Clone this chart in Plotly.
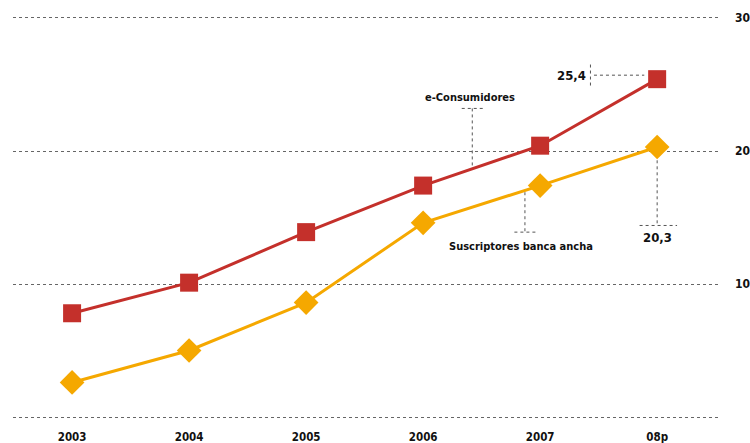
import plotly.graph_objects as go

years = ["2003", "2004", "2005", "2006", "2007", "08p"]
e_consumidores = [7.8, 10.1, 13.9, 17.4, 20.4, 25.4]
banda_ancha = [2.6, 5.0, 8.6, 14.6, 17.4, 20.3]
y_ticks = [0, 10, 20, 30]
y_tick_labels = ["", "10", "20", "30"]

RED = "#C4302B"
YEL = "#F5A800"
FONT = "DejaVu Sans Condensed, Liberation Sans Narrow, Arial Narrow, sans-serif"
DOT = dict(color="#555555", width=1, dash="dot")

x_idx = list(range(len(years)))

fig = go.Figure()
fig.add_trace(go.Scatter(
    x=x_idx, y=e_consumidores, mode="lines+markers", name="e-Consumidores",
    line=dict(color=RED, width=3),
    marker=dict(symbol="square", size=18, color=RED),
))
fig.add_trace(go.Scatter(
    x=x_idx, y=banda_ancha, mode="lines+markers", name="Suscriptores banca ancha",
    line=dict(color=YEL, width=3),
    marker=dict(symbol="diamond", size=19, color=YEL),
))

shapes = [
    dict(type="line", xref="x", yref="y", x0=3.33, x1=3.52, y0=23.2, y1=23.2, line=DOT),
    dict(type="line", xref="x", yref="y", x0=3.42, x1=3.42, y0=23.2, y1=18.7, line=DOT),
    dict(type="line", xref="x", yref="y", x0=3.87, x1=3.87, y0=16.9, y1=13.9, line=DOT),
    dict(type="line", xref="x", yref="y", x0=3.78, x1=3.97, y0=13.9, y1=13.9, line=DOT),
    dict(type="line", xref="x", yref="y", x0=4.43, x1=4.43, y0=26.5, y1=24.7, line=DOT),
    dict(type="line", xref="x", yref="y", x0=4.46, x1=4.89, y0=25.7, y1=25.7, line=DOT),
    dict(type="line", xref="x", yref="y", x0=5.0, x1=5.0, y0=19.3, y1=14.4, line=DOT),
    dict(type="line", xref="x", yref="y", x0=4.85, x1=5.17, y0=14.4, y1=14.4, line=DOT),
]

annotations = [
    dict(x=3.40, y=24.0, xref="x", yref="y", text="<b>e-Consumidores</b>", showarrow=False,
         font=dict(family=FONT, size=11, color="#111111")),
    dict(x=3.84, y=12.8, xref="x", yref="y", text="<b>Suscriptores banca ancha</b>", showarrow=False,
         font=dict(family=FONT, size=11, color="#111111")),
    dict(x=4.41, y=25.7, xref="x", yref="y", text="<b>25,4</b>", showarrow=False,
         xanchor="right", font=dict(family=FONT, size=13, color="#111111")),
    dict(x=5.0, y=13.5, xref="x", yref="y", text="<b>20,3</b>", showarrow=False,
         font=dict(family=FONT, size=13, color="#111111")),
]

fig.update_layout(
    width=750, height=443,
    margin=dict(l=13, r=32, t=14, b=22),
    paper_bgcolor="white", plot_bgcolor="white",
    showlegend=False,
    font=dict(family=FONT, size=12, color="#111111"),
    shapes=shapes, annotations=annotations,
    xaxis=dict(
        range=[-0.505, 5.52], tickmode="array", tickvals=x_idx,
        ticktext=["<b>%s</b>" % y for y in years],
        showgrid=False, zeroline=False, showline=False, ticks="",
        automargin=False, ticklabelstandoff=7,
        tickfont=dict(family=FONT, size=11.5, color="#111111"),
    ),
    yaxis=dict(
        range=[-0.3, 30.3], side="right", tickmode="array", tickvals=y_ticks,
        ticktext=["<b>%s</b>" % t for t in y_tick_labels],
        showgrid=True, gridcolor="#666666", griddash="dot", gridwidth=1,
        zeroline=False, showline=False, ticks="", ticklabelstandoff=16,
        automargin=False,
        tickfont=dict(family=FONT, size=12, color="#111111"),
    ),
)

fig.write_html("out.html")
